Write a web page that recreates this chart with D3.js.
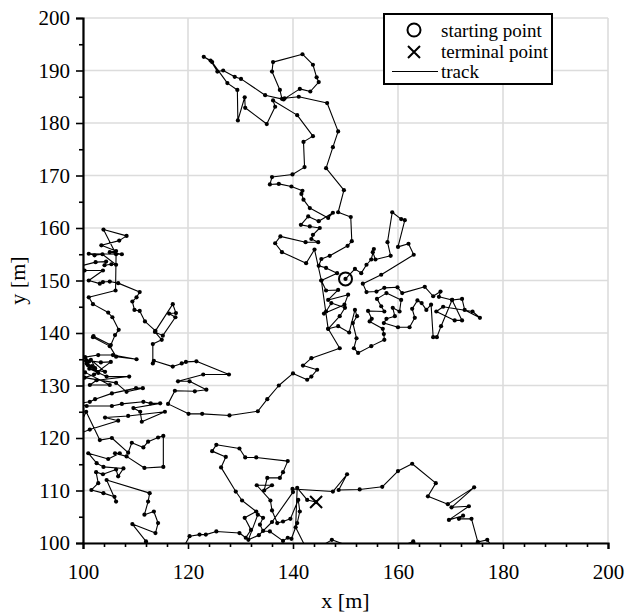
<!DOCTYPE html>
<html>
<head>
<meta charset="utf-8">
<script src="https://cdn.jsdelivr.net/npm/d3@7"></script>
<style>
    body { margin: 0; background: #fff; }
    svg { font-family: "Liberation Serif", "Times New Roman", serif; }
</style>
</head>
<body>
<div id="chart"></div>
<script>
// track of the walk, split in pieces (x [m], y [m]), drawn in order
var trackCenter = [
    [150, 150.3], [151.8, 152.2], [153, 151.4], [154, 153], [154.9, 154], [155.4, 156], [155.2, 155.4], [155.7, 154],
    [158.6, 154.7], [158, 157.3], [158.9, 163], [160.6, 161.7], [161.3, 161.5], [160, 156.4], [162, 157], [163, 154.9],
    [156.8, 151.1], [153.3, 149.4], [154, 147.8], [155.9, 147.9], [157.4, 148.6], [159.9, 148.7], [160.8, 147.6],
    [165.1, 148.8], [166.7, 147], [168.1, 147.9], [167.8, 146.9], [170.3, 146.3], [172.2, 146.5], [172.7, 144.4],
    [175.6, 142.9], [174.2, 144.1], [168.6, 145], [167.3, 144.1], [170.8, 142.4], [172.2, 142.4], [170.3, 146.3],
    [168.2, 141.3], [167.4, 139.2], [166.7, 139.2], [166.3, 145.4], [165.4, 144.4], [164.5, 145.7], [163.7, 146.2],
    [162.7, 144.6], [163.2, 142.9], [162.2, 141.1], [160, 141.1], [157.3, 141.9], [157.8, 142.7], [159.4, 143.2],
    [159, 144.8], [160.3, 144.1], [160.6, 146.3], [157.8, 147.6], [156, 146.5], [156.8, 145.1], [157.4, 144.1],
    [154.3, 144.2], [155, 142.7], [154.6, 142.2], [157.1, 140.8], [157.3, 139.8], [157.4, 138.7], [154.9, 137.5],
    [152.4, 136.2], [151.6, 137.1], [152.1, 139], [151.4, 141.9], [152.2, 143.2], [151.8, 144.4], [150.7, 140.1],
    [148.6, 141.3], [146.7, 140.8], [148.9, 143.2], [149.9, 144.8], [147.3, 145.7], [146.3, 144.1], [145.9, 143.7],
    [149.8, 145.4], [150.5, 147.3], [146.7, 146.3], [148.6, 148.2], [146.3, 148.1], [145.4, 150], [148.4, 151.4],
    [146.3, 152.4], [144.9, 152.8], [145.4, 154.1], [147, 154.7], [150.4, 156.6], [151.2, 157.5], [151, 162.1],
    [148.6, 163], [149.7, 167.2]
];

var trackNorth = [
    [146.3, 171.4], [147.6, 175.4], [148.6, 178.4], [146.5, 183.8], [141.1, 185], [138.4, 184.7], [137.9, 184.6],
    [137.5, 186.3], [136, 189.8], [136.2, 191.6], [141.8, 193.1], [143.8, 191.1], [144.5, 188.7], [144.9, 187.8],
    [143.3, 186], [141.3, 186.5], [138.2, 184.5], [134.7, 185.3], [130.1, 188.4], [128.9, 188.8], [126.7, 190],
    [125.6, 189.8], [124.3, 191.9], [123, 192.6], [124.6, 191.6], [127.5, 187.6], [129.4, 186.3], [129.5, 180.5],
    [130.8, 184.9], [130.9, 182.9], [135, 179.8], [136.6, 183.1], [136.2, 184.3], [140.8, 181.5], [143.8, 177.5],
    [142, 176.4], [142.2, 171.6], [139.9, 170.2], [136, 169.7], [135.6, 168.3], [137.3, 168.4], [139.7, 167.9],
    [141.8, 167.1], [141.6, 166.5], [142, 165.4], [143.2, 163.8], [146.7, 161.9], [147.6, 162.9], [144.9, 161.3],
    [142.9, 162.2], [141.5, 160.6], [143.2, 160.3], [145.1, 160], [143.8, 158.7], [143.5, 157.9], [144.8, 157.3],
    [142.4, 157.3], [137.6, 158.4], [136.6, 157.1], [137.9, 155.4], [142.5, 153.3], [144.1, 155.9], [145.4, 150],
    [146.7, 140.8], [148.9, 137.1], [143.5, 135.2], [141.9, 133.8], [144.6, 133], [143.5, 131.7], [142.7, 131.1],
    [140, 132.3], [137.3, 130], [135.1, 127.4], [133.3, 125.1], [127.9, 124.3], [122.7, 124.6]
];

var trackWest = [
    [120.1, 124.6], [116.2, 126.5], [117.5, 129], [121.3, 128.9], [123.5, 129.2], [120.3, 130.8], [118.1, 130.8],
    [122.9, 132.1], [127.8, 132.1], [121.6, 134.6], [119.6, 134.5], [118.8, 134.2], [117.1, 133.6], [113.5, 134.7],
    [113.3, 134.2], [113.3, 137.9], [115, 138.7], [113.7, 140.2], [115.2, 139.5], [117.6, 143], [116.4, 143.7],
    [117.7, 143.8], [117.1, 145.5], [113.8, 140.4], [111.8, 142.2], [110.8, 144.2], [109.8, 144.4], [109.4, 146],
    [110.2, 146.8], [110.8, 147.8], [106.7, 149.5], [105.1, 149.8], [103.8, 149.7], [103.2, 149.4], [101.1, 150],
    [103.8, 151.9], [100.3, 151.9], [98.5, 152.5], [102.4, 153.5], [104.4, 153.6], [104.1, 152.9], [105.4, 153.1],
    [106.3, 153], [103.7, 155], [102.2, 154.8], [101.1, 155.1], [107.4, 155], [105.1, 155.4], [106.3, 155.6],
    [103.5, 156.7], [106.9, 157.6], [108.3, 158.5], [103.9, 159.7], [106.3, 155], [106.2, 148.1], [101.1, 146.8],
    [101.9, 145.5], [104.8, 143.9], [105.6, 143], [106.8, 140.6], [106.1, 139.6], [105.3, 137.7], [102, 139.4],
    [101.9, 139.2], [105.1, 137.5], [106.3, 135.5], [110.2, 135], [105.7, 135.8], [102.9, 135.8], [100.4, 135.4],
    [101.2, 134.6], [100.7, 134.2], [101.7, 133.7], [102.3, 133.3], [100.9, 133.9], [102.9, 132.4], [101.5, 134.9],
    [104.2, 132.6], [101.2, 133.2], [104.5, 131.7], [108.8, 131.7], [102.6, 131], [101.3, 130.1], [105.1, 130.1],
    [100.4, 132.5], [98, 133.5], [100.6, 134.8], [103.4, 134.4], [105.3, 134.5], [102.1, 132.1], [100.3, 131.5],
    [106.3, 130.5], [108.3, 128.8], [111.4, 129.5], [110.1, 129.5], [105.5, 128.5], [102.3, 127.4], [101.3, 126.9],
    [98.5, 126.5], [100.7, 126.1], [105.5, 126.1], [107.4, 126.5], [111.5, 126.9], [112.9, 126.6], [114.7, 126.6],
    [109.6, 125.7], [110.9, 125], [111.2, 123.1], [115.6, 125], [108.6, 124.2], [104.2, 123.9], [106.7, 123.3],
    [101.3, 121.6], [98.5, 120.5], [100.6, 125], [103.2, 119.6], [105.5, 120], [108.6, 117.2], [109.3, 119.1],
    [111.5, 118.2], [112.4, 119.3], [114.3, 120.1], [115.3, 120.4], [115.3, 114.5], [111.7, 114.3], [108.3, 116.5],
    [106.1, 117.1], [107, 117.1], [104.8, 116], [101, 117.1], [102.6, 115.2], [103.9, 114.5], [107.7, 114.2],
    [106.7, 112.7], [106.3, 114], [103.8, 113.1], [102.5, 113.5], [102.9, 111.4], [101.6, 110.1], [103.9, 109.5],
    [106, 108.8], [106.3, 107.9], [104.5, 112], [112.7, 109.5], [112.4, 107.9], [111.7, 105.4], [113.5, 106],
    [114.3, 103.8], [113.8, 101.9], [109.4, 103.6], [112, 100.3], [114, 97.5], [118.5, 98], [120.3, 101.3]
];

var trackSouth = [
    [122.2, 101.6], [123.4, 101.6], [125.4, 102.2], [129.8, 101.9], [131, 101], [132, 102.5], [130.8, 104.8],
    [133, 106], [130.3, 108.1], [129.1, 109.8], [126.3, 114.4], [127.2, 116.4], [124.6, 117.5], [125.4, 118.7],
    [129.8, 118], [130.9, 116.3], [133, 116.3], [139, 115.6], [138.1, 113.5], [137.5, 112.4], [135.1, 112.4],
    [134.5, 110], [136, 111], [133.1, 111], [135.7, 108.1], [136, 106.2], [137, 103.8], [138.1, 104.1], [139.5, 104.6],
    [141, 108.2], [141.3, 106], [140.8, 103.8], [139.7, 100.8], [139, 101], [138.1, 100.4], [135.6, 102.2],
    [134.3, 102.3], [133.7, 103.5], [134.3, 104.8], [133.3, 105.4], [131.5, 100.6], [133.5, 101.5], [136, 104],
    [140, 109.7], [139.9, 110.3], [147.6, 109.8], [150.3, 113.1], [148.7, 110.1], [152.7, 110.2], [157, 110.7],
    [160, 113.7], [162.7, 115.1], [167.2, 111.4], [165.7, 108.9], [169.5, 107.4], [174.5, 110.6], [170.2, 106.8],
    [173.5, 107], [169.7, 104.4], [172.4, 105.2], [171.6, 104.6], [174, 104.6], [175.2, 100.2], [177, 100.6],
    [178.5, 98.5], [166, 97.5], [162.9, 100.3], [156, 97.5], [147.4, 100.6], [143, 98], [140.5, 103], [140.8, 110.5],
    [142.7, 108.2], [144.4, 107.8]
];

var startPoint = [150, 150.3];
var endPoint = [144.4, 107.8];

var xDomain = [100, 200];
var yDomain = [100, 200];
var xMajor = [100, 120, 140, 160, 180, 200];
var yMajor = [100, 110, 120, 130, 140, 150, 160, 170, 180, 190, 200];

var legendLabels = ["starting point", "terminal point", "track"];

function trackChart() {
    var width = 626,
        height = 613;

    var margin = {
        top: 18,
        right: 18,
        bottom: 70,
        left: 83
    };

    function chart(selector) {
        var plotWidth = width - margin.left - margin.right,
            plotHeight = height - margin.top - margin.bottom;

        var track = trackCenter.concat(trackNorth, trackWest, trackSouth);

        var svg = d3.select(selector).append('svg')
            .attr('width', width)
            .attr('height', height);

        var x = d3.scaleLinear().domain(xDomain).range([0, plotWidth]);
        var y = d3.scaleLinear().domain(yDomain).range([plotHeight, 0]);

        svg.append('defs').append('clipPath')
            .attr('id', 'plotClip')
            .append('rect')
            .attr('width', plotWidth)
            .attr('height', plotHeight);

        var g = svg.append('g')
            .attr('transform', 'translate(' + margin.left + ',' + margin.top + ')');

        // grid
        g.append('g').selectAll('line')
            .data(xMajor)
            .enter().append('line')
            .attr('x1', function (d) { return x(d); })
            .attr('x2', function (d) { return x(d); })
            .attr('y1', 0)
            .attr('y2', plotHeight)
            .style('stroke', '#dcdcdc')
            .style('stroke-width', 1.6);

        g.append('g').selectAll('line')
            .data(yMajor)
            .enter().append('line')
            .attr('x1', 0)
            .attr('x2', plotWidth)
            .attr('y1', function (d) { return y(d); })
            .attr('y2', function (d) { return y(d); })
            .style('stroke', '#dcdcdc')
            .style('stroke-width', 1.6);

        // track
        var plot = g.append('g').attr('clip-path', 'url(#plotClip)');

        var line = d3.line()
            .x(function (d) { return x(d[0]); })
            .y(function (d) { return y(d[1]); });

        plot.append('path')
            .datum(track)
            .attr('d', line)
            .style('fill', 'none')
            .style('stroke', '#000')
            .style('stroke-width', 1.1)
            .style('stroke-linejoin', 'round');

        plot.selectAll('.dot')
            .data(track)
            .enter().append('circle')
            .attr('class', 'dot')
            .attr('cx', function (d) { return x(d[0]); })
            .attr('cy', function (d) { return y(d[1]); })
            .attr('r', 2.1)
            .style('fill', '#000');

        // start / end markers
        g.append('circle')
            .attr('cx', x(startPoint[0]))
            .attr('cy', y(startPoint[1]))
            .attr('r', 6.5)
            .style('fill', 'none')
            .style('stroke', '#000')
            .style('stroke-width', 2);

        var ex = x(endPoint[0]),
            ey = y(endPoint[1]),
            s = 6;
        g.append('path')
            .attr('d', 'M' + (ex - s) + ',' + (ey - s) + 'L' + (ex + s) + ',' + (ey + s) +
                'M' + (ex - s) + ',' + (ey + s) + 'L' + (ex + s) + ',' + (ey - s))
            .style('stroke', '#000')
            .style('stroke-width', 2);

        // axes
        var xAxis = d3.axisBottom(x)
            .tickValues(d3.range(100, 201, 4))
            .tickSize(6)
            .tickFormat(function (d) { return xMajor.indexOf(d) > -1 ? d : ''; })
            .tickPadding(15);

        var yAxis = d3.axisLeft(y)
            .tickValues(d3.range(100, 201, 5))
            .tickSize(7)
            .tickFormat(function (d) { return yMajor.indexOf(d) > -1 ? d : ''; })
            .tickPadding(6);

        var gx = g.append('g')
            .attr('transform', 'translate(0,' + plotHeight + ')')
            .call(xAxis);

        var gy = g.append('g').call(yAxis);

        [gx, gy].forEach(function (ax) {
            ax.select('.domain').style('stroke', '#000').style('stroke-width', 2.2);
            ax.selectAll('.tick line').style('stroke', '#000').style('stroke-width', 1.6);
            ax.selectAll('text')
                .style('font-family', '"Liberation Serif", serif')
                .style('font-size', '21px')
                .style('fill', '#000');
        });

        gx.selectAll('.tick').filter(function (d) { return xMajor.indexOf(d) < 0; })
            .select('line').attr('y2', 4);
        gy.selectAll('.tick').filter(function (d) { return yMajor.indexOf(d) < 0; })
            .select('line').attr('x2', -4);

        // axis titles
        g.append('text')
            .attr('x', plotWidth / 2)
            .attr('y', plotHeight + 65)
            .attr('text-anchor', 'middle')
            .style('font-size', '22px')
            .text('x [m]');

        g.append('text')
            .attr('transform', 'translate(' + (-58) + ',' + (plotHeight / 2) + ') rotate(-90)')
            .attr('text-anchor', 'middle')
            .style('font-size', '22px')
            .text('y [m]');

        // legend
        var legend = svg.append('g')
            .attr('transform', 'translate(384,14)');

        legend.append('rect')
            .attr('width', 168)
            .attr('height', 70)
            .style('fill', '#fff')
            .style('stroke', '#000')
            .style('stroke-width', 2);

        legend.append('circle')
            .attr('cx', 30)
            .attr('cy', 16)
            .attr('r', 6.5)
            .style('fill', 'none')
            .style('stroke', '#000')
            .style('stroke-width', 2);

        legend.append('path')
            .attr('d', 'M24,32L36,44M24,44L36,32')
            .style('stroke', '#000')
            .style('stroke-width', 2);

        legend.append('line')
            .attr('x1', 8)
            .attr('x2', 54)
            .attr('y1', 57.5)
            .attr('y2', 57.5)
            .style('stroke', '#000')
            .style('stroke-width', 1.1);

        legend.selectAll('.label')
            .data(legendLabels)
            .enter().append('text')
            .attr('class', 'label')
            .attr('x', 57)
            .attr('y', function (d, i) { return 23 + i * 20.5; })
            .style('font-size', '19px')
            .text(function (d) { return d; });
    }

    return chart;
}

trackChart()('#chart');
</script>
</body>
</html>
